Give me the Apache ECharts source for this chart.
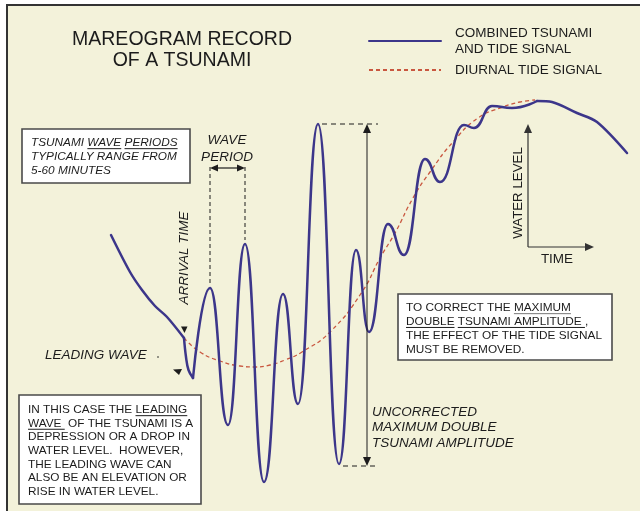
<!DOCTYPE html>
<html><head><meta charset="utf-8">
<script src="https://cdn.jsdelivr.net/npm/echarts@6/dist/echarts.min.js"></script>
<style>html,body{margin:0;padding:0;background:#fff}#c{width:640px;height:511px}</style>
</head><body><div id="c"></div>
<script>
const FONT = '"Liberation Sans", Arial, Helvetica, sans-serif';
// Time (arbitrary units) and water level (arbitrary units)
const approachTime  = [111, 130, 142, 155, 167, 184];
const approachLevel = [276, 239, 221, 205, 194, 173];
const onsetTime  = [184, 186, 188.5, 193];
const onsetLevel = [173, 154, 141, 133];
const waveTime  = [193, 210, 228, 245, 264, 283, 298, 318, 339, 356, 369, 388, 404, 425, 440, 464, 474, 492, 512, 537];
const waveLevel = [133, 223,  86, 267,  29, 217, 107, 387,  47, 261, 179, 287, 256, 352, 329, 386, 383, 405, 403, 410];
const tailTime  = [537, 552, 577, 597, 627];
const tailLevel = [410, 409, 398, 389, 358];
const tideTime  = [184, 200, 220, 240, 255, 270, 285, 302, 330, 362, 380, 395, 413, 430, 453, 478, 503, 520, 535];
const tideLevel = [173, 159, 150, 145, 144, 146, 151, 159, 179, 219, 253, 278, 313, 339, 369, 393, 404, 409, 411];
const seriesNames = ['COMBINED TSUNAMI\nAND TIDE SIGNAL', 'DIURNAL TIDE SIGNAL'];
const titleLines = ['MAREOGRAM RECORD', 'OF A TSUNAMI'];
const periodNote = ['TSUNAMI WAVE PERIODS', 'TYPICALLY RANGE FROM', '5-60 MINUTES'];
const leadingNote = ['IN THIS CASE THE LEADING', 'WAVE  OF THE TSUNAMI IS A', 'DEPRESSION OR A DROP IN', 'WATER LEVEL.  HOWEVER,', 'THE LEADING WAVE CAN', 'ALSO BE AN ELEVATION OR', 'RISE IN WATER LEVEL.'];
const correctNote = ['TO CORRECT THE MAXIMUM', 'DOUBLE TSUNAMI AMPLITUDE ,', 'THE EFFECT OF THE TIDE SIGNAL', 'MUST BE REMOVED.'];
const amplitudeNote = ['UNCORRECTED', 'MAXIMUM DOUBLE', 'TSUNAMI AMPLITUDE'];

function pairs(t, l) { return t.map((v, i) => [v, l[i]]); }

const INK = '#1c1c1c';
const BLUE = '#3c368a';
const RED = '#c9573f';
const g = [];
const mctx = document.createElement('canvas').getContext('2d');
function fontOf(size, italic) { return (italic ? 'italic ' : '') + size + 'px ' + FONT; }
function tw(s, font) { mctx.font = font; return mctx.measureText(s).width; }
function txt(s, x, y, size, opt) {
  opt = opt || {};
  const font = fontOf(size, opt.italic);
  g.push({ type: 'text', x: x, y: y, rotation: opt.rot || 0, z: 30, silent: true,
    style: { text: s, x: 0, y: 0, font: font, fill: INK,
      align: opt.align || 'left', verticalAlign: 'middle',
      textAlign: opt.align || 'left', textVerticalAlign: 'middle' } });
}
function line(x1, y1, x2, y2, st) {
  g.push({ type: 'line', z: 25, silent: true, shape: { x1, y1, x2, y2 },
    style: Object.assign({ stroke: INK, lineWidth: 1 }, st || {}) });
}
function tri(pts, fill) {
  g.push({ type: 'polygon', z: 26, silent: true, shape: { points: pts }, style: { fill: fill || INK } });
}
function underline(lineText, word, x, cy, size, italic, color) {
  const font = fontOf(size, italic);
  const i = lineText.indexOf(word);
  const x0 = x + tw(lineText.slice(0, i), font);
  const x1 = x0 + tw(word, font);
  line(x0, cy + size * 0.48, x1, cy + size * 0.48, { stroke: color || INK, lineWidth: 1 });
}
function box(x, y, w, h) {
  g.push({ type: 'rect', z: 20, silent: true, shape: { x, y, width: w, height: h },
    style: { fill: '#ffffff', stroke: '#4a4a4a', lineWidth: 1.6 } });
}

// background panel with frame
g.push({ type: 'rect', z: -10, silent: true, shape: { x: 7, y: 5, width: 633, height: 506 }, style: { fill: '#f3f2da' } });
line(6, 5, 640, 5, { stroke: '#333', lineWidth: 2 });
line(7, 4, 7, 511, { stroke: '#333', lineWidth: 2 });

// title
txt(titleLines[0], 182, 40, 19.5, { align: 'center' });
txt(titleLines[1], 182, 60.5, 19.5, { align: 'center' });

// period note box
box(22, 129, 168, 54);
periodNote.forEach((s, i) => txt(s, 31, 143 + i * 13.7, 11.8, { italic: true }));
underline(periodNote[0], 'WAVE', 31, 143, 11.8, true);
underline(periodNote[0], 'PERIODS', 31, 143, 11.8, true);

// leading wave box
box(19, 395, 182, 109);
leadingNote.forEach((s, i) => txt(s, 28, 410 + i * 13.6, 11.8));
underline(leadingNote[0], 'LEADING', 28, 410, 11.8, false);
underline(leadingNote[1], 'WAVE ', 28, 423.6, 11.8, false);

// correction box
box(398, 294, 214, 66);
correctNote.forEach((s, i) => txt(s, 406, 308 + i * 13.8, 11.8));
underline(correctNote[0], 'MAXIMUM', 406, 308, 11.8, false, '#777');
underline(correctNote[1], 'DOUBLE', 406, 321.8, 11.8, false);
underline(correctNote[1], 'TSUNAMI AMPLITUDE ', 406, 321.8, 11.8, false);

// wave period annotation
txt('WAVE', 227, 140, 13.5, { italic: true, align: 'center' });
txt('PERIOD', 227, 157, 13.5, { italic: true, align: 'center' });
line(210, 167, 210, 283, { lineDash: [4, 3] });
line(245, 167, 245, 240, { lineDash: [4, 3] });
line(216, 168, 239, 168, { lineWidth: 1.2 });
tri([[210, 168], [218, 164.5], [218, 171.5]]);
tri([[245, 168], [237, 164.5], [237, 171.5]]);

// arrival time and leading wave
txt('ARRIVAL TIME', 184, 258, 13.5, { italic: true, align: 'center', rot: Math.PI / 2 });
txt('LEADING WAVE', 45, 355, 13.5, { italic: true });
tri([[181, 326.5], [187.5, 326.5], [184.5, 333]]);
tri([[173, 369.5], [182, 369], [179, 375]]);
g.push({ type: 'circle', z: 26, silent: true, shape: { cx: 158, cy: 357, r: 0.8 }, style: { fill: INK } });

// maximum double amplitude annotation
line(322, 124, 378, 124, { lineDash: [5, 4] });
line(343, 466, 377, 466, { lineDash: [5, 4] });
line(367, 132, 367, 458, { lineWidth: 1 });
tri([[367, 124], [363, 133], [371, 133]]);
tri([[367, 466], [363, 457], [371, 457]]);
amplitudeNote.forEach((s, i) => txt(s, 372, 412 + i * 15.5, 13.5, { italic: true }));

// water level / time key
line(528, 131, 528, 247, { stroke: '#333', lineWidth: 1.2 });
line(528, 247, 587, 247, { stroke: '#333', lineWidth: 1.2 });
tri([[528, 124], [524, 133], [532, 133]], '#333');
tri([[594, 247], [585, 243], [585, 251]], '#333');
txt('WATER LEVEL', 518, 193, 13.3, { align: 'center', rot: Math.PI / 2 });
txt('TIME', 557, 259, 13.5, { align: 'center' });

const blueStyle = { color: BLUE, width: 2.5, cap: 'round', join: 'round' };
const chart = echarts.init(document.getElementById('c'), null, { renderer: 'canvas' });
chart.setOption({
  animation: false,
  backgroundColor: '#ffffff',
  grid: { left: 0, right: 0, top: 0, bottom: 0 },
  xAxis: { type: 'value', min: 0, max: 640, show: false },
  yAxis: { type: 'value', min: 0, max: 511, show: false },
  legend: {
    orient: 'vertical', left: 363, top: 20, padding: 5,
    itemWidth: 72, itemHeight: 14, itemGap: 5, selectedMode: false,
    data: seriesNames,
    itemStyle: { opacity: 0 },
    textStyle: { fontFamily: FONT, fontSize: 13.5, lineHeight: 16, color: INK, padding: [0, 0, 0, 9] }
  },
  series: [
    { name: seriesNames[0], type: 'line', data: pairs(waveTime, waveLevel), smooth: 0.5, smoothMonotone: 'x',
      symbol: 'none', itemStyle: { color: BLUE }, lineStyle: blueStyle, z: 5 },
    { name: seriesNames[0], type: 'line', data: pairs(approachTime, approachLevel), smooth: 0.3,
      symbol: 'none', itemStyle: { color: BLUE }, lineStyle: blueStyle, z: 5 },
    { name: seriesNames[0], type: 'line', data: pairs(onsetTime, onsetLevel), smooth: 0.4,
      symbol: 'none', itemStyle: { color: BLUE }, lineStyle: blueStyle, z: 5 },
    { name: seriesNames[0], type: 'line', data: pairs(tailTime, tailLevel), smooth: 0.3,
      symbol: 'none', itemStyle: { color: BLUE }, lineStyle: blueStyle, z: 5 },
    { name: seriesNames[1], type: 'line', data: pairs(tideTime, tideLevel), smooth: 0.5,
      symbol: 'none', itemStyle: { color: RED }, lineStyle: { color: RED, width: 1.3, type: [4, 3] }, z: 4 }
  ],
  graphic: { elements: g }
});
</script></body></html>
